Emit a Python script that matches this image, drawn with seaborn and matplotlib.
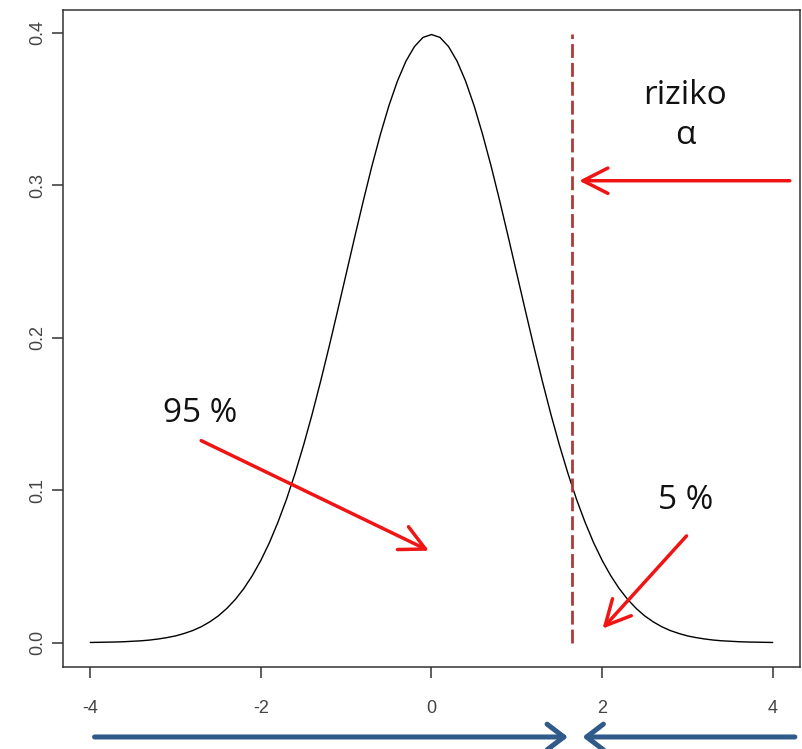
import numpy as np
import matplotlib
matplotlib.use("Agg")
import matplotlib.pyplot as plt
import matplotlib.transforms as mtransforms
import seaborn as sns

# ---- data ----
x_half = [0.0, 0.1, 0.2, 0.3, 0.4, 0.5, 0.6, 0.7, 0.8, 0.9, 1.0, 1.1, 1.2, 1.3, 1.4,
          1.5, 1.6, 1.7, 1.8, 1.9, 2.0, 2.1, 2.2, 2.3, 2.4, 2.5, 2.6, 2.7, 2.8, 2.9,
          3.0, 3.1, 3.2, 3.3, 3.4, 3.5, 3.6, 3.7, 3.8, 3.9, 4.0]
density_half = [0.3989, 0.3970, 0.3910, 0.3814, 0.3683, 0.3521, 0.3332, 0.3123, 0.2897,
                0.2661, 0.2420, 0.2179, 0.1942, 0.1714, 0.1497, 0.1295, 0.1109, 0.0940,
                0.0790, 0.0656, 0.0540, 0.0440, 0.0355, 0.0283, 0.0224, 0.0175, 0.0136,
                0.0104, 0.0079, 0.0060, 0.0044, 0.0033, 0.0024, 0.0017, 0.0012, 0.0009,
                0.0006, 0.0004, 0.0003, 0.0002, 0.0001]
x_vals = [-v for v in x_half[:0:-1]] + x_half
density = density_half[:0:-1] + density_half

crit_x = 1.645
crit_top = 0.399

x_ticks = [-4, -2, 0, 2, 4]
x_ticklabels = ["-4", "-2", "0", "2", "4"]
y_ticks = [0.0, 0.1, 0.2, 0.3, 0.4]
y_ticklabels = ["0.0", "0.1", "0.2", "0.3", "0.4"]

label_risk = "riziko"
label_alpha = "α"
label_95 = "95 %"
label_5 = "5 %"

# ---- style ----
sns.set_style("white")
plt.rcParams["font.family"] = ["Open Sans", "DejaVu Sans"]

fig = plt.figure(figsize=(8.03, 7.49), dpi=100)
W, H = 803, 749
ax = fig.add_axes([63 / W, (H - 667) / H, (800 - 63) / W, (667 - 10) / H])

sns.lineplot(x=x_vals, y=density, color="black", linewidth=1.0, ax=ax)

ax.vlines(crit_x, 0, crit_top, colors="#b03a3a", linewidth=2.0,
          linestyles=[(0, (5, 1.8))])

ax.set_xlim(-4.32, 4.32)
ax.set_ylim(-0.016, 0.415)

for s in ax.spines.values():
    s.set_visible(True)
    s.set_color("#333333")
    s.set_linewidth(1.1)

tick_font = ["Liberation Sans Narrow", "Liberation Sans", "DejaVu Sans"]
ax.set_xticks(x_ticks)
ax.set_xticklabels(x_ticklabels, family=tick_font, fontsize=13, color="#444444")
ax.set_yticks(y_ticks)
ax.set_yticklabels(y_ticklabels, family=tick_font, fontsize=13, color="#444444",
                   rotation=90, va="center")
ax.tick_params(axis="both", which="major", length=8, width=1.1, color="#333333",
               direction="out", bottom=True, left=True)
ax.tick_params(axis="x", pad=16)
ax.tick_params(axis="y", pad=4)

# ---- annotations ----
txt_kw = dict(fontsize=24, color="#111111", ha="center", va="center")
ax.text(2.97, 0.3587, label_risk, **txt_kw)
ax.text(2.97, 0.3325, label_alpha, **txt_kw)
ax.text(-2.71, 0.150, label_95, **txt_kw)
ax.text(2.98, 0.093, label_5, **txt_kw)

def red(x0, y0, x1, y1):
    ax.annotate("", xy=(x1, y1), xytext=(x0, y0),
                arrowprops=dict(arrowstyle="->,head_length=0.75,head_width=0.38",
                                color="#f01414", lw=2.5, shrinkA=0, shrinkB=0,
                                mutation_scale=24))

red(4.20, 0.303, 1.73, 0.303)
red(-2.70, 0.1325, -0.03, 0.0603)
red(2.99, 0.070, 2.005, 0.0092)

# ---- blue arrows below the axis ----
trans = mtransforms.blended_transform_factory(ax.transData, ax.transAxes)
yb = -0.1065
blue_kw = dict(arrowstyle="->,head_length=0.55,head_width=0.42", color="#2f5a8a",
               lw=3.6, shrinkA=0, shrinkB=0, mutation_scale=22)
ax.annotate("", xy=(1.60, yb), xytext=(-3.95, yb), xycoords=trans, textcoords=trans,
            arrowprops=blue_kw, annotation_clip=False)
ax.annotate("", xy=(1.77, yb), xytext=(4.26, yb), xycoords=trans, textcoords=trans,
            arrowprops=blue_kw, annotation_clip=False)

fig.savefig("out.png", dpi=100, facecolor="white")
